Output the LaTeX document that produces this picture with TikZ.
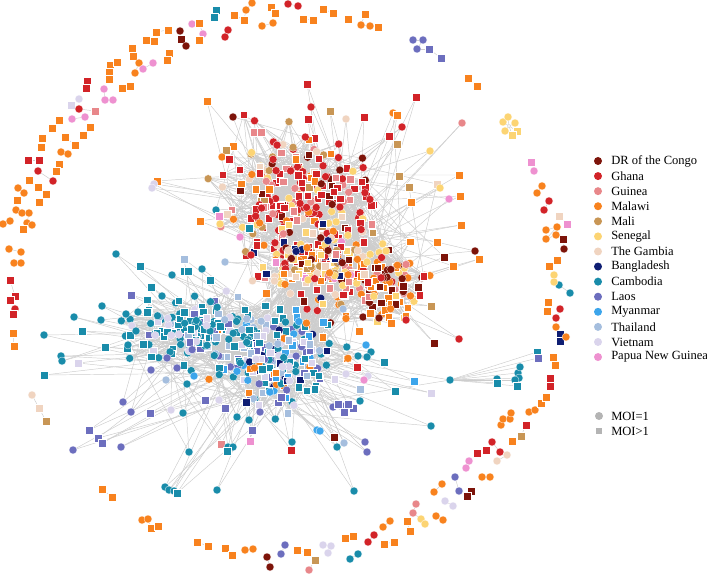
\documentclass[tikz,border=0pt]{standalone}
\usepackage{fontspec}
\setmainfont{Liberation Serif}
\definecolor{cDR}{RGB}{125,20,10}
\definecolor{cGH}{RGB}{210,35,40}
\definecolor{cGN}{RGB}{232,135,138}
\definecolor{cMW}{RGB}{248,130,30}
\definecolor{cML}{RGB}{200,150,85}
\definecolor{cSN}{RGB}{252,212,115}
\definecolor{cGM}{RGB}{240,212,192}
\definecolor{cBD}{RGB}{15,30,115}
\definecolor{cKH}{RGB}{25,140,170}
\definecolor{cLA}{RGB}{108,110,190}
\definecolor{cMM}{RGB}{60,165,235}
\definecolor{cTH}{RGB}{165,190,222}
\definecolor{cVN}{RGB}{218,212,236}
\definecolor{cPG}{RGB}{238,145,208}
\definecolor{cMOI}{RGB}{180,180,180}
\definecolor{cEdge}{RGB}{205,205,205}
\tikzset{
  mkc/.style={circle,inner sep=0pt,minimum size=6pt,draw=white,line width=0.2pt},
  mks/.style={rectangle,inner sep=0pt,minimum size=5.5pt,draw=white,line width=0.2pt},
  edge/.style={draw=cEdge,line width=0.35pt},
  legtext/.style={anchor=west,inner sep=0pt,font=\fontsize{9.4}{11}\selectfont}
}
\pgfmathdeclarerandomlist{A1}{{cGH}{cGH}{cGH}{cGH}{cGH}{cGH}{cGH}{cGN}{cGN}{cML}{cSN}{cGM}{cMW}{cDR}}
\pgfmathdeclarerandomlist{A2}{{cSN}{cSN}{cSN}{cGH}{cGH}{cGH}{cMW}{cMW}{cMW}{cMW}{cGM}{cGM}{cDR}{cML}{cGN}{cPG}{cBD}}
\pgfmathdeclarerandomlist{A3}{{cMW}{cMW}{cMW}{cMW}{cMW}{cMW}{cDR}{cDR}{cGH}{cSN}{cGN}}
\pgfmathdeclarerandomlist{B2}{{cKH}{cKH}{cKH}{cTH}{cTH}{cMM}{cMM}{cVN}{cVN}{cLA}{cLA}{cBD}{cMW}}
\pgfmathdeclarerandomlist{B1}{{cKH}{cKH}{cKH}{cKH}{cKH}{cKH}{cVN}{cVN}{cLA}{cTH}}
\newcommand\mkcluster[6]{%
  \foreach \i in {#1,...,#2}{%
    \pgfmathsetmacro\px{#3+#5*(rand+rand+rand)}%
    \pgfmathsetmacro\py{#4+#6*(rand+rand+rand)}%
    \coordinate (a\i) at (\px,\py);}}
\newcommand\paintcluster[3]{%
  \foreach \i in {#1,...,#2}{%
    \pgfmathrandomitem{\col}{#3}%
    \pgfmathrandominteger{\shp}{0}{1}%
    \ifnum\shp=0 \node[mkc,fill=\col] (m\i) at (a\i) {};%
    \else \node[mks,fill=\col] (m\i) at (a\i) {};\fi}}
\def\spokesA{207/101/MW/s, 233/117/DR/c, 254/132/GN/s, 261/132/GN/s, 233/146/MW/s, 226/150/ML/s, 222/157/MW/c, 229/159/GH/s, 307/84/GH/s, 311/107/GH/c, 308/119/GH/s, 330/111/ML/s, 346/119/GM/c, 364/117/GH/s, 393/113/MW/c, 397/115/MW/s, 402/127/GH/c, 389/136/GH/s, 416/97/GH/s, 462/123/GN/c, 430/151/SN/c, 459/175/MW/s, 460/196/MW/s, 437/184/GM/s, 440/188/SN/c, 449/199/PG/c, 461/225/MW/s, 437/242/MW/s, 475/251/DR/c, 479/259/MW/s, 444/257/DR/s, 453/266/MW/s, 431/306/ML/s, 459/339/GH/c, 434/343/DR/s, 406/320/GH/c, 391/323/MW/s, 379/318/DR/c, 363/317/DR/c, 370/313/MW/s, 359/331/MW/s, 399/176/ML/s, 409/187/ML/s, 411/202/MW/s, 397/144/ML/s, 418/287/DR/s, 403/286/DR/s, 216/210/KH/c, 219/216/PG/s, 220/224/SN/c, 240/237/PG/c, 249/228/KH/s, 200/221/MW/s, 251/255/GH/c, 225/262/TH/c, 157/181/MW/s, 154/184/VN/c, 152/188/VN/c}
\def\spokesB{44/335/KH/c, 74/317/KH/c, 82/331/KH/s, 102/306/KH/c, 101/320/KH/c, 126/314/KH/c, 138/312/KH/c, 147/312/KH/s, 105/347/KH/s, 44/375/KH/s, 61/356/KH/c, 62/361/KH/c, 78/363/VN/s, 128/345/KH/c, 143/344/KH/s, 130/335/KH/s, 136/331/KH/c, 123/402/LA/c, 131/412/LA/c, 150/413/LA/s, 171/410/VN/c, 183/413/KH/c, 89/430/LA/s, 98/438/LA/s, 102/443/LA/s, 73/450/LA/c, 121/447/LA/c, 189/452/KH/c, 165/487/KH/c, 169/490/KH/c, 174/491/KH/c, 177/493/KH/s, 217/490/KH/c, 221/444/GN/s, 228/447/KH/c, 233/447/KH/c, 227/451/KH/s, 205/400/LA/s, 225/408/LA/s, 219/400/VN/c, 167/358/LA/c, 177/368/LA/c, 151/370/LA/c, 166/380/TH/c, 252/430/LA/s, 250/441/PG/s, 249/420/KH/c, 237/417/KH/c, 260/412/LA/c, 246/402/BD/s, 291/450/GH/s, 292/442/KH/c, 187/384/KH/c, 194/376/MM/c, 116/254/KH/c, 140/266/KH/s, 184/259/TH/s, 184/271/KH/s, 188/271/KH/s, 172/275/KH/c, 202/269/KH/c, 210/280/KH/s, 131/295/LA/s, 151/287/KH/s, 162/296/KH/c, 384/362/KH/s, 414/381/MM/s, 431/393/VN/s, 395/391/KH/s, 431/426/KH/c, 371/352/KH/c, 367/357/KH/c, 358/356/KH/c, 357/367/GH/s, 366/345/MM/c, 346/374/VN/c, 368/376/VN/c, 364/380/PG/c, 360/389/TH/s, 360/401/KH/c, 342/406/LA/c, 353/408/LA/s, 344/412/LA/s, 333/407/LA/c, 338/404/LA/s, 348/404/LA/s, 365/442/LA/c, 367/452/LA/c, 334/437/DR/s, 337/447/KH/c, 344/443/TH/c, 354/491/KH/c, 317/430/MM/c, 320/431/MM/c}
\def\ringlist{216/10/KH/s/0, 214/17/KH/s/1, 234/15/MW/s/0, 244/20/MW/s/1, 246/10/MW/c/1, 252/3/MW/c/1, 271/7/MW/s/0, 275/13/MW/s/1, 262/26/MW/c/0, 273/23/MW/c/1, 288/4/GH/c/0, 298/6/GH/c/1, 180/31/DR/c/0, 181/39/DR/s/1, 186/46/DR/c/1, 192/24/PG/c/0, 199/23/MW/s/1, 203/34/PG/c/1, 199/40/MW/s/1, 228/30/GH/c/0, 225/37/GH/c/1, 168/30/MW/s/0, 156/32/MW/s/1, 146/40/MW/s/0, 154/41/MW/s/1, 132/48/MW/s/0, 133/56/MW/s/1, 169/53/MW/s/0, 167/60/MW/s/1, 139/63/MW/c/0, 135/73/MW/c/1, 143/69/PG/c/0, 153/63/PG/c/1, 110/65/MW/s/0, 117/62/MW/s/1, 109/72/MW/s/1, 109/79/MW/s/1, 122/88/MW/s/0, 130/86/MW/s/1, 87/81/GH/s/0, 86/88/GH/s/1, 104/89/PG/c/0, 105/100/PG/c/1, 113/100/PG/c/1, 79/99/VN/c/0, 71/105/VN/s/1, 79/109/GH/c/0, 95/111/GN/s/1, 72/119/PG/c/0, 85/117/PG/c/1, 59/120/MW/s/0, 52/128/MW/s/1, 90/127/MW/s/0, 83/135/MW/s/1, 65/137/MW/s/0, 75/145/MW/s/1, 42/138/MW/s/0, 41/147/MW/s/1, 61/152/MW/c/0, 68/154/MW/c/1, 28/160/GH/s/0, 39/160/GH/s/1, 59/164/MW/s/0, 56/171/MW/s/1, 38/171/GH/c/0, 53/181/GH/c/1, 29/180/MW/s/0, 38/187/MW/s/1, 46/194/MW/s/1, 39/202/MW/s/1, 18/188/MW/c/0, 24/193/MW/c/1, 17/200/MW/s/1, 16/210/MW/c/0, 22/213/MW/c/1, 29/213/MW/c/1, 27/223/MW/c/1, 32/225/MW/c/1, 23/229/MW/s/1, 3/224/MW/c/0, 10/221/MW/c/1, 9/249/MW/c/0, 21/252/MW/c/1, 14/263/MW/c/0, 21/263/MW/c/1, 10/280/GH/s/0, 15/296/GH/s/1, 10/300/GH/s/1, 15/309/GH/c/1, 13/314/GH/s/1, 13/333/MW/s/0, 14/346/MW/s/1, 32/395/GM/c/0, 39/408/GM/s/1, 46/421/ML/s/1, 102/489/MW/s/0, 112/497/MW/s/1, 142/520/MW/c/0, 148/519/MW/c/1, 151/528/MW/s/1, 158/526/MW/s/1, 197/542/MW/s/0, 208/546/MW/s/1, 225/548/MW/s/0, 232/555/MW/s/1, 245/550/MW/c/0, 253/549/MW/c/1, 267/557/DR/c/0, 270/567/DR/c/1, 285/545/LA/c/0, 281/554/LA/c/1, 297/550/MW/s/0, 307/552/MW/s/1, 315/560/ML/s/0, 309/570/GN/c/1, 323/545/VN/c/0, 331/546/VN/c/1, 328/553/VN/c/1, 350/559/KH/c/0, 358/554/KH/c/1, 345/538/MW/s/0, 353/536/MW/s/1, 368/542/GH/c/0, 374/535/GH/c/1, 384/544/MW/s/0, 394/542/MW/s/1, 383/527/MW/c/0, 390/521/MW/c/1, 407/521/MW/s/0, 410/531/MW/s/1, 416/504/GN/c/0, 413/513/GN/c/1, 421/519/SN/c/1, 425/524/SN/c/1, 436/516/MW/c/0, 443/520/MW/c/1, 445/501/VN/c/0, 453/506/VN/c/1, 434/492/MW/c/0, 442/484/MW/c/1, 455/477/LA/c/0, 459/491/LA/c/1, 471/491/DR/s/0, 467/496/DR/s/1, 469/461/PG/c/0, 466/468/PG/c/1, 477/453/GH/s/0, 486/450/GH/s/1, 492/442/GH/c/0, 500/452/GH/c/1, 497/461/GM/c/0, 507/455/GM/c/1, 482/477/MW/c/0, 490/477/MW/c/1, 512/441/MW/s/0, 521/436/ML/s/1, 526/425/GH/s/1, 501/425/MW/c/0, 503/419/MW/c/1, 510/419/MW/c/1, 511/413/MW/c/1, 529/412/MW/c/0, 535/410/MW/c/1, 541/403/MW/s/0, 546/397/MW/s/1, 550/386/GH/s/0, 550/378/GH/s/1, 553/357/MW/s/0, 555/365/MW/s/1, 560/334/BD/s/0, 560/341/BD/s/1, 566/337/MW/c/1, 556/327/MW/c/0, 556/318/GH/c/0, 560/309/GH/c/1, 547/311/MW/s/0, 548/302/MW/s/1, 559/285/KH/c/0, 570/293/KH/c/1, 554/275/SN/c/0, 554/282/SN/c/1, 557/260/MW/s/0, 549/266/MW/s/1, 563/239/DR/s/0, 564/249/DR/c/1, 546/230/MW/c/0, 557/227/MW/c/1, 546/239/MW/c/1, 556/235/MW/c/1, 559/216/GM/s/0, 567/224/PG/s/1, 549/201/GH/c/0, 544/210/GH/c/1, 542/186/MW/c/0, 537/193/MW/c/1, 531/162/PG/s/0, 534/171/PG/c/1, 468/78/MW/s/0, 477/86/MW/s/1, 413/40/LA/c/0, 423/40/LA/c/1, 417/49/LA/c/1, 429/49/LA/s/1, 441/58/LA/s/1, 303/19/MW/s/0, 313/20/MW/s/1, 323/9/MW/s/0, 333/13/MW/s/1, 348/19/MW/s/0, 365/14/MW/s/0, 361/25/MW/c/1, 370/26/MW/c/1, 378/27/MW/s/1}
\def\rightcl{497/379/KH/c, 497/383/KH/s, 518/373/KH/c, 520/367/KH/c, 519/378/KH/c, 515/380/KH/c, 517/386/KH/s, 537/352/KH/s, 538/358/LA/s}
\def\flower{503/122/SN/c, 508/117/SN/c, 515/123/SN/c, 517/131/SN/s, 512/135/SN/s, 505/131/SN/c}
\begin{document}
\begin{tikzpicture}[x=0.75pt,y=-0.75pt]
\useasboundingbox (0,0) rectangle (707,574);
\pgfmathsetseed{4711}
% core coordinates
\mkcluster{1}{220}{300}{195}{36}{30}
\mkcluster{221}{330}{380}{285}{24}{18}
\mkcluster{331}{530}{315}{262}{28}{18}
\mkcluster{531}{730}{280}{360}{32}{22}
\mkcluster{731}{890}{200}{330}{32}{16}
% core edges
\foreach \i in {1,...,890}{
  \foreach \k in {1,2,3,4}{
    \pgfmathrandominteger{\dd}{-130}{130}
    \pgfmathtruncatemacro\jj{max(1,min(890,\i+\dd))}
    \draw[edge] (a\i) -- (a\jj);}}
% spoke edges
\foreach \x/\y/\co/\sh [count=\i] in \spokesA {
  \coordinate (sA\i) at (\x,\y);
  \pgfmathrandominteger{\jj}{1}{530}\draw[edge] (sA\i) -- (a\jj);
  \pgfmathrandominteger{\jj}{1}{530}\draw[edge] (sA\i) -- (a\jj);}
\foreach \x/\y/\co/\sh [count=\i] in \spokesB {
  \coordinate (sB\i) at (\x,\y);
  \pgfmathrandominteger{\jj}{531}{890}\draw[edge] (sB\i) -- (a\jj);
  \pgfmathrandominteger{\jj}{531}{890}\draw[edge] (sB\i) -- (a\jj);}
% right teal group
\coordinate (hubR) at (450,380);
\draw[edge] (hubR) -- (a600);
\draw[edge] (hubR) -- (a650);
\foreach \x/\y/\co/\sh [count=\i] in \rightcl {
  \coordinate (rc\i) at (\x,\y);
  \draw[edge] (rc\i) -- (hubR);}
% flower
\coordinate (flc) at (509,126);
\foreach \x/\y/\co/\sh [count=\i] in \flower {
  \coordinate (fl\i) at (\x,\y);
  \draw[edge] (fl\i) -- (flc);}
% ring
\foreach \x/\y/\co/\sh/\lk [count=\i] in \ringlist {
  \coordinate (r\i) at (\x,\y);
  \ifnum\lk=1 \pgfmathtruncatemacro\jj{\i-1}\draw[edge] (r\jj) -- (r\i);\fi}
% markers
\paintcluster{1}{220}{A1}
\paintcluster{221}{330}{A3}
\paintcluster{331}{530}{A2}
\paintcluster{531}{730}{B2}
\paintcluster{731}{890}{B1}
\foreach \x/\y/\co/\sh [count=\i] in \spokesA {\node[mk\sh,fill=c\co] (nA\i) at (sA\i) {};}
\foreach \x/\y/\co/\sh [count=\i] in \spokesB {\node[mk\sh,fill=c\co] (nB\i) at (sB\i) {};}
\node[mkc,fill=cKH] (nhub) at (hubR) {};
\foreach \x/\y/\co/\sh [count=\i] in \rightcl {\node[mk\sh,fill=c\co] (nrc\i) at (rc\i) {};}
\node[circle,inner sep=0pt,minimum size=2.5pt,fill=white,draw=cEdge,line width=0.2pt] (nflc) at (flc) {};
\foreach \x/\y/\co/\sh [count=\i] in \flower {\node[mk\sh,fill=c\co] (nfl\i) at (fl\i) {};}
\foreach \x/\y/\co/\sh/\lk [count=\i] in \ringlist {\node[mk\sh,fill=c\co] (nr\i) at (r\i) {};}
% legend
\foreach \lab/\co [count=\i] in {DR of the Congo/DR, Ghana/GH, Guinea/GN, Malawi/MW, Mali/ML, Senegal/SN, The Gambia/GM, Bangladesh/BD, Cambodia/KH, Laos/LA, Myanmar/MM, Thailand/TH, Vietnam/VN, Papua New Guinea/PG}{
  \pgfmathsetmacro\ly{161+(\i-1)*15.08}
  \node[circle,inner sep=0pt,minimum size=6pt,fill=c\co] (lg\i) at (598,\ly) {};
  \node[legtext] (lt\i) at (611,\ly) {\lab};}
\node[circle,inner sep=0pt,minimum size=6pt,fill=cMOI] (moi1) at (599,416) {};
\node[legtext] (moit1) at (611,416) {MOI=1};
\node[rectangle,inner sep=0pt,minimum size=5.2pt,fill=cMOI] (moi2) at (599,431) {};
\node[legtext] (moit2) at (611,431) {MOI>1};
\end{tikzpicture}
\end{document}
